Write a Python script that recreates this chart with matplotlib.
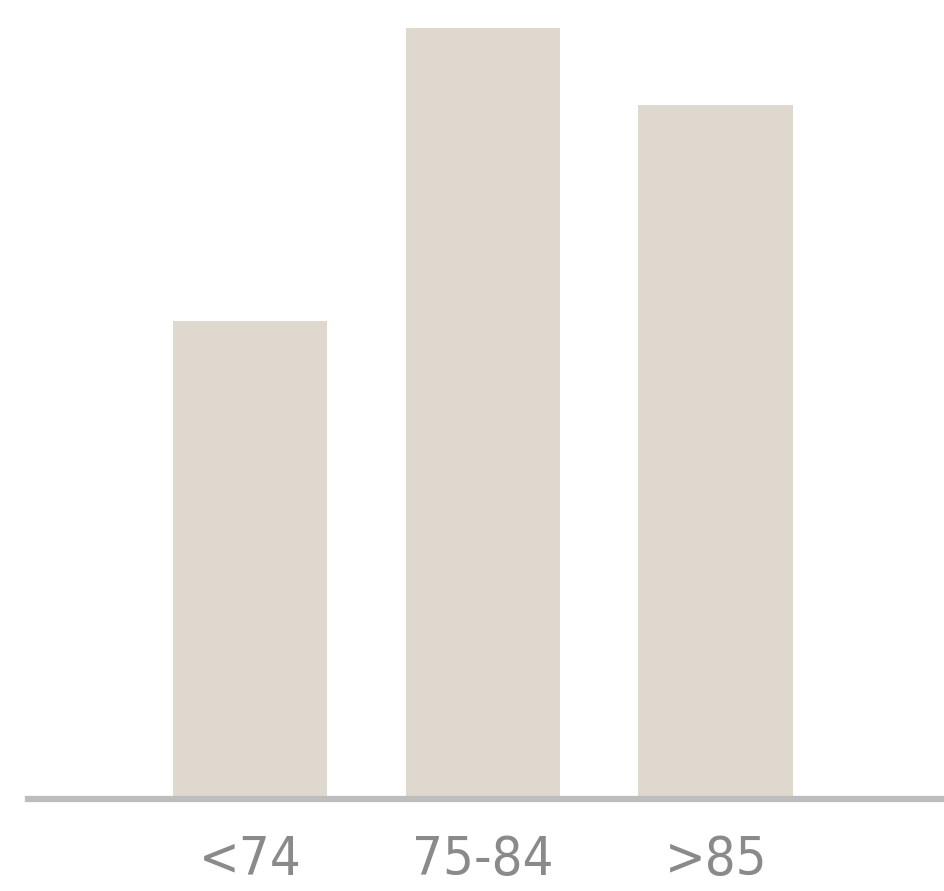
import matplotlib.pyplot as plt

age_groups = ['<74', '75-84', '>85']
values = [62, 100, 90]

fig = plt.figure(figsize=(9.44, 8.91), dpi=100)
ax = fig.add_axes([28 / 944, (891 - 799) / 891, 916 / 944, 799 / 891])

x = range(len(age_groups))
ax.bar(x, values, width=0.665, color='#DFD8CE')

ax.set_xlim(-0.953, 2.979)
ax.set_ylim(0, 103.6)
ax.set_xticks(list(x))
ax.set_xticklabels(age_groups, fontsize=39, color='#8a8a8a',
                   family=['DejaVu Sans'], stretch='condensed')
ax.tick_params(axis='x', length=0, pad=25)
ax.set_yticks([])
for s in ['top', 'left', 'right']:
    ax.spines[s].set_visible(False)
ax.spines['bottom'].set_color('#BDBDBD')
ax.spines['bottom'].set_linewidth(4.5)

fig.savefig('out.png', dpi=100)
